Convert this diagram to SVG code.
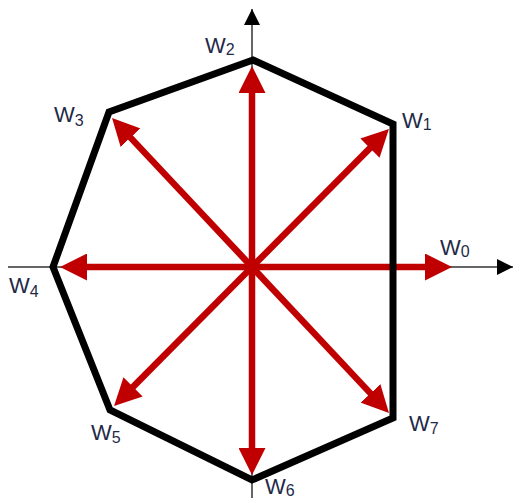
<svg xmlns="http://www.w3.org/2000/svg" width="515" height="501" viewBox="0 0 515 501">
<style>
.axis{stroke:#333;stroke-width:1.5;fill:none}
.vec{stroke:#c00000;stroke-width:6.5;fill:none}
.poly{stroke:#000;stroke-width:7;fill:none;stroke-linejoin:miter}
.lbl{font-family:"Liberation Sans",Arial,sans-serif;font-size:22px;fill:#1f2a48}
.sub{font-size:16px}
</style>
<defs>
<marker id="ax" markerUnits="userSpaceOnUse" markerWidth="16" markerHeight="16" refX="16" refY="8" orient="auto">
<path d="M0,0 L16,8 L0,16 z" fill="#000"/>
</marker>
<marker id="rh" markerUnits="userSpaceOnUse" markerWidth="27" markerHeight="27" refX="12" refY="13.5" orient="auto">
<path d="M0,0 L27,13.5 L0,27 z" fill="#c00000"/>
</marker>
</defs>
<g id="axes">
<line class="axis" x1="8" y1="267" x2="513" y2="267" marker-end="url(#ax)"/>
<line class="axis" x1="252" y1="498" x2="252" y2="9" marker-end="url(#ax)"/>
</g>
<g id="connectors">
<line class="vec" x1="252" y1="267" x2="437" y2="267" marker-end="url(#rh)"/>
<line class="vec" x1="252" y1="267" x2="378.4" y2="139.6" marker-end="url(#rh)"/>
<line class="vec" x1="252" y1="267" x2="252" y2="81" marker-end="url(#rh)"/>
<line class="vec" x1="252" y1="267" x2="122.3" y2="128.9" marker-end="url(#rh)"/>
<line class="vec" x1="252" y1="267" x2="75" y2="267" marker-end="url(#rh)"/>
<line class="vec" x1="252" y1="267" x2="124.6" y2="395.4" marker-end="url(#rh)"/>
<line class="vec" x1="252" y1="267" x2="252" y2="460" marker-end="url(#rh)"/>
<line class="vec" x1="252" y1="267" x2="378.7" y2="402.1" marker-end="url(#rh)"/>
</g>
<g id="polygon">
<polygon class="poly" points="253,60 393,124 393,418 252,480 110,410 53,267 109,112"/>
</g>
<g id="w0"><text class="lbl" x="440" y="255">W<tspan class="sub" dy="2">0</tspan></text></g>
<g id="w1"><text class="lbl" x="402" y="128">W<tspan class="sub" dy="2">1</tspan></text></g>
<g id="w2"><text class="lbl" x="205" y="53">W<tspan class="sub" dy="2">2</tspan></text></g>
<g id="w3"><text class="lbl" x="54" y="122">W<tspan class="sub" dy="4">3</tspan></text></g>
<g id="w4"><text class="lbl" x="9" y="293">W<tspan class="sub" dy="4">4</tspan></text></g>
<g id="w5"><text class="lbl" x="91" y="440">W<tspan class="sub" dy="3">5</tspan></text></g>
<g id="w6"><text class="lbl" x="265" y="494">W<tspan class="sub" dy="2">6</tspan></text></g>
<g id="w7"><text class="lbl" x="409" y="431">W<tspan class="sub" dy="3">7</tspan></text></g>
</svg>
